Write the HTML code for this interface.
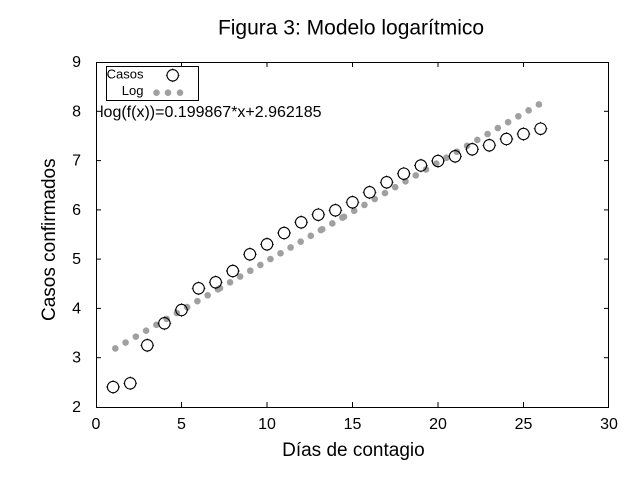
<!DOCTYPE html>
<html><head><meta charset="utf-8"><style>
html,body{margin:0;padding:0;background:#fff;}
svg{display:block;}
text{font-family:"Liberation Sans",Arial,sans-serif;fill:#000;}
</style></head><body>
<svg width="640" height="480" viewBox="0 0 640 480" xmlns="http://www.w3.org/2000/svg">
<rect x="0" y="0" width="640" height="480" fill="#fff"/>
<text x="351" y="34.5" font-size="21" text-anchor="middle">Figura 3: Modelo logarítmico</text>

<!-- border -->
<rect x="96.5" y="62.5" width="512" height="345" fill="none" stroke="#000" stroke-width="1"/>
<!-- ticks -->
<g stroke="#000" stroke-width="1">
<line x1="181.5" y1="407" x2="181.5" y2="402"/><line x1="181.5" y1="62" x2="181.5" y2="67"/>
<line x1="267" y1="407" x2="267" y2="402"/><line x1="267" y1="62" x2="267" y2="67"/>
<line x1="352.5" y1="407" x2="352.5" y2="402"/><line x1="352.5" y1="62" x2="352.5" y2="67"/>
<line x1="438" y1="407" x2="438" y2="402"/><line x1="438" y1="62" x2="438" y2="67"/>
<line x1="523.5" y1="407" x2="523.5" y2="402"/><line x1="523.5" y1="62" x2="523.5" y2="67"/>
<line x1="96" y1="357.7" x2="101" y2="357.7"/><line x1="609" y1="357.7" x2="604" y2="357.7"/>
<line x1="96" y1="308.4" x2="101" y2="308.4"/><line x1="609" y1="308.4" x2="604" y2="308.4"/>
<line x1="96" y1="259.1" x2="101" y2="259.1"/><line x1="609" y1="259.1" x2="604" y2="259.1"/>
<line x1="96" y1="209.9" x2="101" y2="209.9"/><line x1="609" y1="209.9" x2="604" y2="209.9"/>
<line x1="96" y1="160.6" x2="101" y2="160.6"/><line x1="609" y1="160.6" x2="604" y2="160.6"/>
<line x1="96" y1="111.3" x2="101" y2="111.3"/><line x1="609" y1="111.3" x2="604" y2="111.3"/>
</g>
<!-- y tick labels -->
<g font-size="16" text-anchor="end">
<text x="81" y="412">2</text>
<text x="81" y="362.7">3</text>
<text x="81" y="313.4">4</text>
<text x="81" y="264.1">5</text>
<text x="81" y="214.9">6</text>
<text x="81" y="165.6">7</text>
<text x="81" y="116.3">8</text>
<text x="81" y="67">9</text>
</g>
<!-- x tick labels -->
<g font-size="16" text-anchor="middle">
<text x="96" y="429">0</text>
<text x="181.5" y="429">5</text>
<text x="267" y="429">10</text>
<text x="352.5" y="429">15</text>
<text x="438" y="429">20</text>
<text x="523.5" y="429">25</text>
<text x="609" y="429">30</text>
</g>
<text x="353.4" y="456" font-size="19" text-anchor="middle">Días de contagio</text>
<text transform="translate(55,239.7) rotate(-90)" font-size="19" text-anchor="middle">Casos confirmados</text>

<!-- Log dots -->
<g fill="#a0a0a0">
<circle cx="115.32" cy="348.45" r="3.3"/><circle cx="125.58" cy="342.54" r="3.3"/><circle cx="135.84" cy="336.63" r="3.3"/>
<circle cx="146.10" cy="330.72" r="3.3"/><circle cx="156.36" cy="324.81" r="3.3"/><circle cx="166.62" cy="318.90" r="3.3"/>
<circle cx="176.88" cy="312.99" r="3.3"/><circle cx="187.14" cy="307.07" r="3.3"/><circle cx="197.40" cy="301.16" r="3.3"/>
<circle cx="207.66" cy="295.25" r="3.3"/><circle cx="217.92" cy="289.34" r="3.3"/><circle cx="219.98" cy="288.16" r="3.3"/>
<circle cx="230.06" cy="282.35" r="3.3"/><circle cx="240.15" cy="276.54" r="3.3"/><circle cx="250.24" cy="270.73" r="3.3"/>
<circle cx="260.33" cy="264.91" r="3.3"/><circle cx="270.42" cy="259.10" r="3.3"/><circle cx="280.51" cy="253.29" r="3.3"/>
<circle cx="290.60" cy="247.48" r="3.3"/><circle cx="300.69" cy="241.67" r="3.3"/><circle cx="310.78" cy="235.85" r="3.3"/>
<circle cx="320.87" cy="230.04" r="3.3"/><circle cx="322.23" cy="229.26" r="3.3"/><circle cx="332.32" cy="223.44" r="3.3"/>
<circle cx="342.41" cy="217.63" r="3.3"/><circle cx="343.95" cy="216.74" r="3.3"/><circle cx="354.21" cy="210.83" r="3.3"/>
<circle cx="364.47" cy="204.92" r="3.3"/><circle cx="374.73" cy="199.01" r="3.3"/><circle cx="384.99" cy="193.10" r="3.3"/>
<circle cx="395.25" cy="187.19" r="3.3"/><circle cx="405.51" cy="181.28" r="3.3"/><circle cx="415.77" cy="175.37" r="3.3"/>
<circle cx="426.03" cy="169.46" r="3.3"/><circle cx="436.29" cy="163.55" r="3.3"/><circle cx="446.55" cy="157.64" r="3.3"/>
<circle cx="456.81" cy="151.73" r="3.3"/><circle cx="467.07" cy="145.82" r="3.3"/><circle cx="477.33" cy="139.91" r="3.3"/>
<circle cx="487.59" cy="134.00" r="3.3"/><circle cx="497.85" cy="128.09" r="3.3"/><circle cx="508.11" cy="122.18" r="3.3"/>
<circle cx="518.37" cy="116.27" r="3.3"/><circle cx="528.63" cy="110.36" r="3.3"/><circle cx="538.89" cy="104.45" r="3.3"/>
</g>

<!-- Casos circles -->
<defs>
<g id="c">
<circle cx="0" cy="0" r="5.7" fill="none" stroke="#000" stroke-width="1.1"/>
<path d="M0,-6.8V-5.7M0,5.7V6.8M-6.8,0H-5.7M5.7,0H6.8" stroke="#000" stroke-width="0.9"/>
</g>
</defs>
<use href="#c" x="113.1" y="387"/>
<use href="#c" x="130.2" y="383.3"/>
<use href="#c" x="147.3" y="345.3"/>
<use href="#c" x="164.4" y="323.3"/>
<use href="#c" x="181.5" y="310"/>
<use href="#c" x="198.6" y="288.3"/>
<use href="#c" x="215.7" y="282.3"/>
<use href="#c" x="232.8" y="271"/>
<use href="#c" x="249.9" y="254.3"/>
<use href="#c" x="267.0" y="244.3"/>
<use href="#c" x="284.1" y="233"/>
<use href="#c" x="301.2" y="222.3"/>
<use href="#c" x="318.3" y="214.7"/>
<use href="#c" x="335.4" y="210.3"/>
<use href="#c" x="352.5" y="202.3"/>
<use href="#c" x="369.6" y="192.3"/>
<use href="#c" x="386.7" y="182.3"/>
<use href="#c" x="403.8" y="173.7"/>
<use href="#c" x="420.9" y="165.5"/>
<use href="#c" x="438.0" y="161"/>
<use href="#c" x="455.1" y="156.3"/>
<use href="#c" x="472.2" y="149.3"/>
<use href="#c" x="489.3" y="145.3"/>
<use href="#c" x="506.4" y="139"/>
<use href="#c" x="523.5" y="134"/>
<use href="#c" x="540.6" y="128.7"/>

<!-- legend -->
<rect x="106.5" y="66.5" width="92" height="34" fill="#fff" stroke="#000" stroke-width="1"/>
<text x="143.5" y="78.5" font-size="13" text-anchor="end">Casos</text>
<text x="143.5" y="95" font-size="13" text-anchor="end">Log</text>
<use href="#c" x="172.7" y="75.3"/>
<g fill="#a0a0a0">
<circle cx="156.5" cy="92.7" r="3.3"/><circle cx="168" cy="92.7" r="3.3"/><circle cx="180" cy="92.7" r="3.3"/>
</g>

<text x="100" y="117" font-size="16">log(f(x))=0.199867*x+2.962185</text>
</svg>
</body></html>
